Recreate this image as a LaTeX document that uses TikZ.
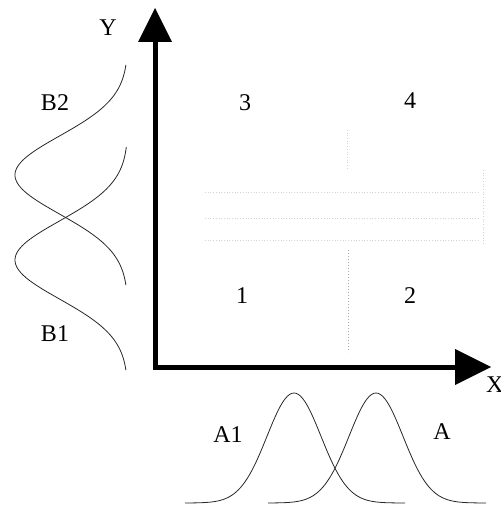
\documentclass[tikz,border=0pt]{standalone}
\usepackage{fontspec}
\setmainfont{Liberation Serif}
\begin{document}
\begin{tikzpicture}[x=1pt,y=-1pt,
  lbl/.style={font=\fontsize{24}{28}\selectfont, inner sep=0pt},
  axis/.style={line width=5pt},
  head/.style={fill=black},
  curve/.style={line width=0.8pt, black!85},
  faint/.style={gray!35, line width=0.7pt, dotted}]
\useasboundingbox (0,0) rectangle (500,505);
\clip (0,0) rectangle (500,505);
% axes
\coordinate (O) at (155,367);
\coordinate (ytip) at (155,40);
\coordinate (xtip) at (458,367);
\draw[axis] (ytip) -- (O) -- (xtip);
\fill[head] (155,8) -- (172,42) -- (138,42) -- cycle;
\fill[head] (491,367) -- (455,349) -- (455,385) -- cycle;
% faint region lines
\draw[faint] (347,130) -- (347,168);
\draw[faint] (205,192) -- (480,192);
\draw[faint] (205,218) -- (480,218);
\draw[faint] (205,240) -- (480,240);
\draw[faint] (483,170) -- (483,245);
\draw[gray!70, line width=1pt, dotted] (348,250) -- (348,352);
% labels
\node[lbl] (Y) at (108,28) {Y};
\node[lbl, anchor=west] (X) at (486,385) {X};
\node[lbl] (q3) at (245,103) {3};
\node[lbl] (q4) at (410,101) {4};
\node[lbl] (q1) at (242,296) {1};
\node[lbl] (q2) at (410,296) {2};
\node[lbl] (B2) at (55,103) {B2};
\node[lbl] (B1) at (55,334) {B1};
\node[lbl] (A1) at (228,435) {A1};
\node[lbl] (A) at (442,432) {A};
% B distributions (vertical)
\draw[curve] plot[domain=65:285, samples=100, smooth] ({128-113*exp(-((\x-175)/39)^2/2)}, \x);
\draw[curve] plot[domain=147:370, samples=100, smooth] ({128-113*exp(-((\x-260)/39)^2/2)}, \x);
% A distributions (horizontal)
\draw[curve] plot[domain=185:405, samples=100, smooth] (\x, {503-110*exp(-((\x-294)/27)^2/2)});
\draw[curve] plot[domain=268:486, samples=100, smooth] (\x, {503-110*exp(-((\x-376)/27)^2/2)});
\end{tikzpicture}
\end{document}
